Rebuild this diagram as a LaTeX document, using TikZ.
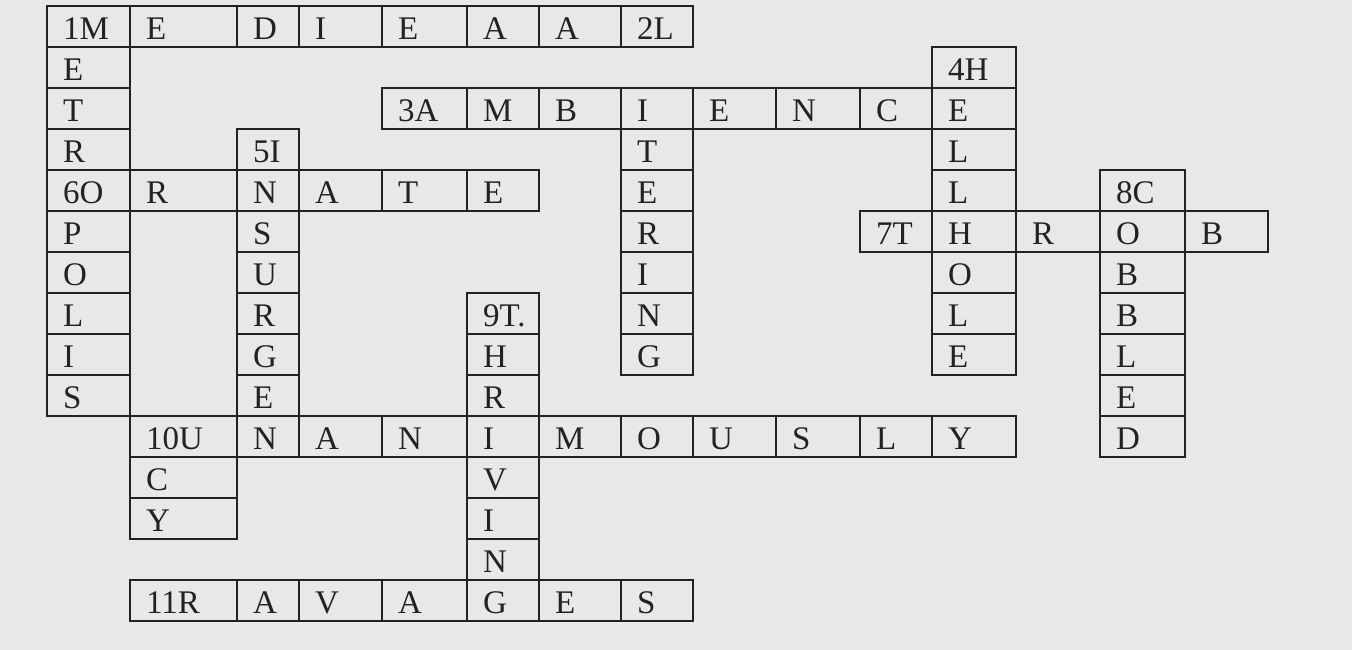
\documentclass[tikz,border=0pt]{standalone}
\usepackage{fontspec}
\setmainfont{Liberation Serif}
\definecolor{paper}{RGB}{232,232,230}
\definecolor{ink}{RGB}{34,34,34}
\begin{document}
\begin{tikzpicture}[x=1pt,y=-1pt,
  cellbox/.style={draw=ink,line width=1.8pt,line join=miter},
  letter/.style={anchor=base west,inner sep=0pt,text=ink,font=\fontsize{33}{36}\selectfont}]
\fill[paper] (0,0) rectangle (1352,650);
\useasboundingbox (0,0) rectangle (1352,650);
\def\colx{{47,130,237,299,382,467,539,621,693,776,860,932,1016,1100,1185,1268}}
\foreach \cc/\rr/\txt in {
  0/0/1M, 1/0/E, 2/0/D, 3/0/I, 4/0/E, 5/0/A, 6/0/A, 7/0/2L,
  0/1/E, 0/2/T, 0/3/R, 0/4/6O, 0/5/P, 0/6/O, 0/7/L, 0/8/I, 0/9/S,
  1/4/R, 2/4/N, 3/4/A, 4/4/T, 5/4/E,
  2/3/5I, 2/5/S, 2/6/U, 2/7/R, 2/8/G, 2/9/E, 2/10/N,
  4/2/3A, 5/2/M, 6/2/B, 7/2/I, 8/2/E, 9/2/N, 10/2/C, 11/2/E,
  7/3/T, 7/4/E, 7/5/R, 7/6/I, 7/7/N, 7/8/G,
  11/1/4H, 11/3/L, 11/4/L, 11/5/H, 11/6/O, 11/7/L, 11/8/E,
  10/5/7T, 12/5/R, 13/5/O, 14/5/B,
  13/4/8C, 13/6/B, 13/7/B, 13/8/L, 13/9/E, 13/10/D,
  5/7/9T., 5/8/H, 5/9/R, 5/11/V, 5/12/I, 5/13/N,
  1/10/10U, 3/10/A, 4/10/N, 5/10/I, 6/10/M, 7/10/O, 8/10/U, 9/10/S, 10/10/L, 11/10/Y,
  1/11/C, 1/12/Y,
  1/14/11R, 2/14/A, 3/14/V, 4/14/A, 5/14/G, 6/14/E, 7/14/S}{
  \pgfmathsetmacro\xa{\colx[\cc]}
  \pgfmathsetmacro\xb{\colx[\cc+1]}
  \pgfmathsetmacro\ya{6+41*\rr}
  \pgfmathsetmacro\yb{\ya+41}
  \draw[cellbox] (\xa,\ya) rectangle (\xb,\yb);
  \node[letter] (n\cc-\rr) at (\xa+16,\yb-7.5) {\txt};
}
\end{tikzpicture}
\end{document}
